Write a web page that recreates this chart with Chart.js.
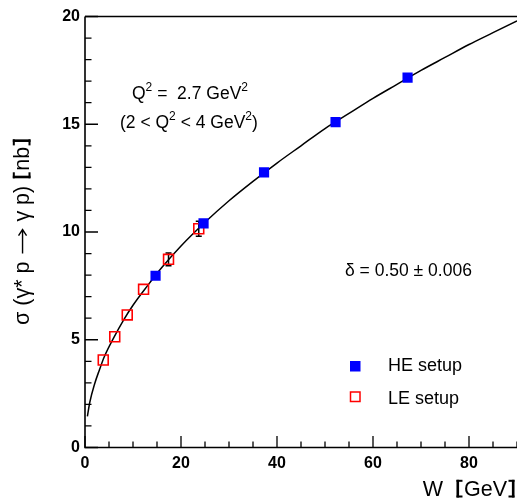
<!DOCTYPE html>
<html>
<head>
<meta charset="utf-8">
<script src="https://cdn.jsdelivr.net/npm/chart.js@4"></script>
<style>
  html, body { margin: 0; padding: 0; background: #fff; overflow: hidden; }
  #wrap { position: relative; width: 517px; height: 502px; }
</style>
</head>
<body>
<div id="wrap"><canvas id="xsec" width="517" height="502"></canvas></div>
<script>
// HE setup measurements (W in GeV, cross section in nb)
const heW = [14.7, 24.7, 37.3, 52.2, 67.2];
const heSigma = [7.97, 10.4, 12.77, 15.1, 17.16];
const heErr = [0, 0, 0, 0, 0.17];

// LE setup measurements
const leW = [3.8, 6.2, 8.8, 12.2, 17.4, 23.7];
const leSigma = [4.06, 5.14, 6.15, 7.34, 8.73, 10.15];
const leErr = [0, 0, 0, 0, 0.3, 0.35];

// fitted curve, sampled
const fitW = [0.5, 1, 2, 3, 4, 6, 8, 10, 13, 16, 20, 25, 30, 35, 40, 45, 50, 55, 60, 65, 70, 75, 80, 85, 90];
const fitSigma = [1.45, 2.1, 2.95, 3.6, 4.2, 5.1, 5.9, 6.6, 7.5, 8.35, 9.35, 10.45, 11.45, 12.35, 13.2, 14.0, 14.8, 15.5, 16.2, 16.85, 17.5, 18.1, 18.7, 19.25, 19.8];

const FONT = '"Liberation Sans", Arial, Helvetica, sans-serif';

function toPoints(xs, ys) {
    return xs.map((x, i) => ({ x: x, y: ys[i] }));
}

// one piece of a label: plain text, a heavy square bracket, or a long arrow
function pieceWidth(ctx, p) {
    if (p.bracket) return 9;
    if (p.arrow) return p.arrow;
    ctx.font = p.size + "px " + FONT;
    return ctx.measureText(p.text).width;
}

function drawPiece(ctx, p, pos) {
    if (p.bracket) {
        const h = p.size * 0.8, th = 2.6, arm = 6;
        const x0 = p.bracket === "[" ? pos + 1.5 : pos + 9 - 1.5 - th;
        const top = -h + 1, bot = 1.5;
        ctx.fillRect(x0, top, th, bot - top);
        const ax = p.bracket === "[" ? x0 : x0 + th - arm;
        ctx.fillRect(ax, top, arm, 2);
        ctx.fillRect(ax, bot - 2, arm, 2);
        return;
    }
    if (p.arrow) {
        const y = -p.size * 0.3, x1 = pos + 2, x2 = pos + p.arrow - 2;
        ctx.beginPath();
        ctx.moveTo(x1, y); ctx.lineTo(x2, y);
        ctx.moveTo(x2 - 6, y - 4); ctx.lineTo(x2, y); ctx.lineTo(x2 - 6, y + 4);
        ctx.stroke();
        return;
    }
    ctx.font = p.size + "px " + FONT;
    ctx.fillText(p.text, pos, -(p.rise || 0));
}

function richWidth(ctx, parts) {
    ctx.save();
    const w = parts.reduce((s, p) => s + pieceWidth(ctx, p), 0);
    ctx.restore();
    return w;
}

function drawRich(ctx, x, y, parts, angle) {
    ctx.save();
    ctx.translate(x, y);
    if (angle) ctx.rotate(angle);
    ctx.textBaseline = "alphabetic";
    ctx.textAlign = "left";
    ctx.fillStyle = "#000";
    ctx.strokeStyle = "#000";
    ctx.lineWidth = 1.4;
    let pos = 0;
    parts.forEach(p => {
        drawPiece(ctx, p, pos);
        pos += pieceWidth(ctx, p);
    });
    ctx.restore();
}

const T = (text, size, rise) => ({ text: text, size: size, rise: rise || 0 });

const errorBars = {
    id: "errorBars",
    beforeDatasetsDraw(chart) {
        const ctx = chart.ctx;
        const xs = chart.scales.x, ys = chart.scales.y;
        ctx.save();
        ctx.strokeStyle = "#000";
        ctx.lineWidth = 1.5;
        const draw = (w, s, e) => {
            w.forEach((wv, i) => {
                if (!e[i]) return;
                const px = xs.getPixelForValue(wv);
                const top = ys.getPixelForValue(s[i] + e[i]);
                const bot = ys.getPixelForValue(s[i] - e[i]);
                ctx.beginPath();
                ctx.moveTo(px, top); ctx.lineTo(px, bot);
                ctx.moveTo(px - 3, top); ctx.lineTo(px + 3, top);
                ctx.moveTo(px - 3, bot); ctx.lineTo(px + 3, bot);
                ctx.stroke();
            });
        };
        draw(heW, heSigma, heErr);
        draw(leW, leSigma, leErr);
        ctx.restore();
    }
};

const frame = {
    id: "frame",
    afterDraw(chart) {
        const ctx = chart.ctx;
        const a = chart.chartArea;
        const xs = chart.scales.x, ys = chart.scales.y;
        ctx.save();
        ctx.strokeStyle = "#000";
        ctx.lineWidth = 1.6;

        // axes and top edge
        ctx.beginPath();
        ctx.moveTo(a.left, a.top); ctx.lineTo(a.left, a.bottom); ctx.lineTo(a.right, a.bottom);
        ctx.moveTo(a.left, a.top); ctx.lineTo(a.right, a.top);
        ctx.stroke();

        // inward ticks
        ctx.lineWidth = 1.3;
        ctx.beginPath();
        for (let v = 0; v <= 90; v += 5) {
            const px = xs.getPixelForValue(v);
            const len = v % 20 === 0 ? 11.5 : 6;
            ctx.moveTo(px, a.bottom); ctx.lineTo(px, a.bottom - len);
        }
        for (let v = 0; v <= 20; v += 1) {
            const py = ys.getPixelForValue(v);
            const len = v % 5 === 0 ? 13 : 6.5;
            ctx.moveTo(a.left, py); ctx.lineTo(a.left + len, py);
        }
        ctx.stroke();

        // axis titles
        const xTitle = [T("W  ", 21.5), { bracket: "[", size: 21.5 }, T("GeV", 21.5), { bracket: "]", size: 21.5 }];
        drawRich(ctx, 516 - richWidth(ctx, xTitle), 496, xTitle);
        const yTitle = [T("σ (γ* p ", 21.5), { arrow: 28, size: 21.5 }, T(" γ p) ", 21.5),
                        { bracket: "[", size: 21.5 }, T("nb", 21.5), { bracket: "]", size: 21.5 }];
        drawRich(ctx, 29, 325, yTitle, -Math.PI / 2);

        // annotations
        drawRich(ctx, 132, 99, [T("Q", 17.5), T("2", 12, 8), T(" =  2.7 GeV", 17.5), T("2", 12, 8)]);
        drawRich(ctx, 120, 128, [T("(2 < Q", 17.5), T("2", 12, 8), T(" < 4 GeV", 17.5), T("2", 12, 8), T(")", 17.5)]);
        drawRich(ctx, 345, 276, [T("δ = 0.50 ± 0.006", 17.5)]);

        // legend
        const he = chart.data.datasets[0], le = chart.data.datasets[1];
        ctx.fillStyle = he.backgroundColor;
        ctx.fillRect(350, 361, 10.5, 10.5);
        ctx.strokeStyle = le.borderColor;
        ctx.lineWidth = 1.5;
        ctx.strokeRect(350.5, 392, 9.5, 9.5);
        drawRich(ctx, 388, 371, [T(he.label, 18)]);
        drawRich(ctx, 388, 404, [T(le.label, 18)]);
        ctx.restore();
    }
};

new Chart(document.getElementById("xsec"), {
    type: "scatter",
    data: {
        datasets: [
            {
                label: "HE setup",
                data: toPoints(heW, heSigma),
                pointStyle: "rect",
                pointRadius: 7.2,
                backgroundColor: "#0000ff",
                borderColor: "#0000ff",
                borderWidth: 0
            },
            {
                label: "LE setup",
                data: toPoints(leW, leSigma),
                pointStyle: "rect",
                pointRadius: 7,
                backgroundColor: "rgba(0,0,0,0)",
                borderColor: "#ff0000",
                borderWidth: 1.6
            },
            {
                label: "fit",
                type: "line",
                data: toPoints(fitW, fitSigma),
                borderColor: "#000",
                borderWidth: 1.5,
                pointRadius: 0,
                cubicInterpolationMode: "monotone",
                fill: false
            }
        ]
    },
    options: {
        responsive: false,
        animation: false,
        devicePixelRatio: 1,
        layout: { autoPadding: false, padding: { top: 16.5, right: 0, left: 0, bottom: 0 } },
        plugins: {
            legend: { display: false },
            tooltip: { enabled: false }
        },
        scales: {
            x: {
                type: "linear",
                min: 0,
                max: 90,
                grid: { display: false, drawTicks: false },
                border: { display: false },
                ticks: {
                    stepSize: 20,
                    includeBounds: false,
                    maxRotation: 0,
                    padding: 6,
                    color: "#000",
                    font: { family: FONT, size: 16, weight: "bold" }
                },
                afterFit(scale) {
                    scale.height = 54.5;
                    scale.paddingLeft = 0;
                    scale.paddingRight = 0;
                }
            },
            y: {
                min: 0,
                max: 20,
                grid: { display: false, drawTicks: false },
                border: { display: false },
                ticks: {
                    stepSize: 5,
                    padding: 5,
                    color: "#000",
                    font: { family: FONT, size: 16, weight: "bold" }
                },
                afterFit(scale) {
                    scale.width = 85;
                    scale.paddingTop = 0;
                    scale.paddingBottom = 0;
                }
            }
        }
    },
    plugins: [errorBars, frame]
});
</script>
</body>
</html>
